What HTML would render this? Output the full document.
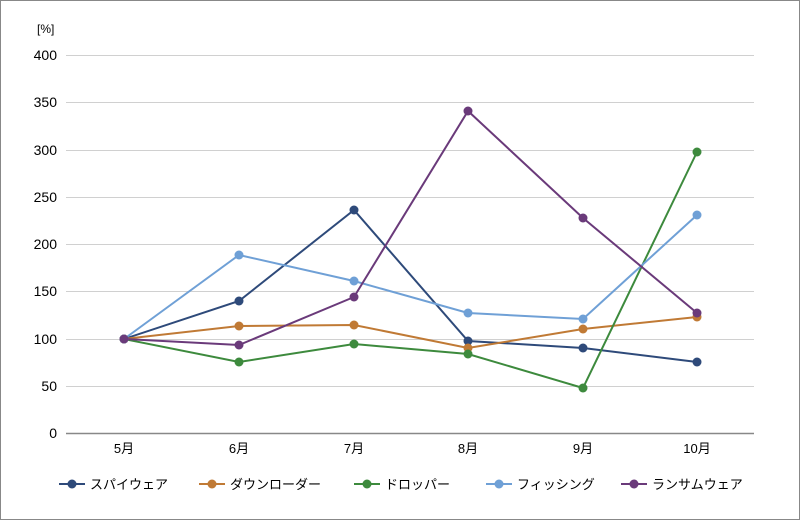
<!DOCTYPE html>
<html><head><meta charset="utf-8"><style>
body{margin:0;background:#fff}
svg{display:block;font-family:"Liberation Sans","Noto Sans CJK JP",sans-serif}
</style></head><body>
<svg width="800" height="520" viewBox="0 0 800 520" xmlns="http://www.w3.org/2000/svg">
<rect x="0.5" y="0.5" width="799" height="519" fill="#fff" stroke="#888"/>
<g stroke="#d0d0d0" stroke-width="1">
<line x1="66" x2="754" y1="55.5" y2="55.5"/>
<line x1="66" x2="754" y1="102.5" y2="102.5"/>
<line x1="66" x2="754" y1="150.5" y2="150.5"/>
<line x1="66" x2="754" y1="197.5" y2="197.5"/>
<line x1="66" x2="754" y1="244.5" y2="244.5"/>
<line x1="66" x2="754" y1="291.5" y2="291.5"/>
<line x1="66" x2="754" y1="339.5" y2="339.5"/>
<line x1="66" x2="754" y1="386.5" y2="386.5"/>
</g>
<line x1="66" x2="754" y1="433.5" y2="433.5" stroke="#888" stroke-width="1.5"/>
<g font-size="14" fill="#000" text-anchor="end">
<text x="57" y="60">400</text><text x="57" y="107">350</text><text x="57" y="155">300</text>
<text x="57" y="202">250</text><text x="57" y="249">200</text><text x="57" y="296">150</text>
<text x="57" y="344">100</text><text x="57" y="391">50</text><text x="57" y="438">0</text>
</g>
<text x="37" y="33" font-size="12">[%]</text>
<g font-size="13" text-anchor="middle">
<text x="124" y="453">5月</text><text x="239" y="453">6月</text><text x="354" y="453">7月</text>
<text x="468" y="453">8月</text><text x="583" y="453">9月</text><text x="697" y="453">10月</text>
</g>
<g fill="none" stroke-width="2">
<polyline stroke="#2e4a7a" points="124,339 239,301 354,210 468,341 583,348 697,362"/>
<polyline stroke="#c07a35" points="124,339 239,326 354,325 468,348 583,329 697,317"/>
<polyline stroke="#3d8a3d" points="124,339 239,362 354,344 468,354 583,388 697,152"/>
<polyline stroke="#6fa0d6" points="124,339 239,255 354,281 468,313 583,319 697,215"/>
<polyline stroke="#6a3a7a" points="124,339 239,345 354,297 468,111 583,218 697,313"/>
</g>
<g fill="#2e4a7a"><circle cx="124" cy="339" r="4.5"/><circle cx="239" cy="301" r="4.5"/><circle cx="354" cy="210" r="4.5"/><circle cx="468" cy="341" r="4.5"/><circle cx="583" cy="348" r="4.5"/><circle cx="697" cy="362" r="4.5"/></g>
<g fill="#c07a35"><circle cx="124" cy="339" r="4.5"/><circle cx="239" cy="326" r="4.5"/><circle cx="354" cy="325" r="4.5"/><circle cx="468" cy="348" r="4.5"/><circle cx="583" cy="329" r="4.5"/><circle cx="697" cy="317" r="4.5"/></g>
<g fill="#3d8a3d"><circle cx="124" cy="339" r="4.5"/><circle cx="239" cy="362" r="4.5"/><circle cx="354" cy="344" r="4.5"/><circle cx="468" cy="354" r="4.5"/><circle cx="583" cy="388" r="4.5"/><circle cx="697" cy="152" r="4.5"/></g>
<g fill="#6fa0d6"><circle cx="124" cy="339" r="4.5"/><circle cx="239" cy="255" r="4.5"/><circle cx="354" cy="281" r="4.5"/><circle cx="468" cy="313" r="4.5"/><circle cx="583" cy="319" r="4.5"/><circle cx="697" cy="215" r="4.5"/></g>
<g fill="#6a3a7a"><circle cx="124" cy="339" r="4.5"/><circle cx="239" cy="345" r="4.5"/><circle cx="354" cy="297" r="4.5"/><circle cx="468" cy="111" r="4.5"/><circle cx="583" cy="218" r="4.5"/><circle cx="697" cy="313" r="4.5"/></g>
<g font-size="13" stroke-width="2">
<line x1="59" x2="85" y1="484" y2="484" stroke="#2e4a7a"/><circle cx="72" cy="484" r="4.5" fill="#2e4a7a"/><text x="90" y="489">スパイウェア</text>
<line x1="199" x2="225" y1="484" y2="484" stroke="#c07a35"/><circle cx="212" cy="484" r="4.5" fill="#c07a35"/><text x="230" y="489">ダウンローダー</text>
<line x1="354" x2="380" y1="484" y2="484" stroke="#3d8a3d"/><circle cx="367" cy="484" r="4.5" fill="#3d8a3d"/><text x="385" y="489">ドロッパー</text>
<line x1="486" x2="512" y1="484" y2="484" stroke="#6fa0d6"/><circle cx="499" cy="484" r="4.5" fill="#6fa0d6"/><text x="517" y="489">フィッシング</text>
<line x1="621" x2="647" y1="484" y2="484" stroke="#6a3a7a"/><circle cx="634" cy="484" r="4.5" fill="#6a3a7a"/><text x="652" y="489">ランサムウェア</text>
</g>
</svg>
</body></html>
